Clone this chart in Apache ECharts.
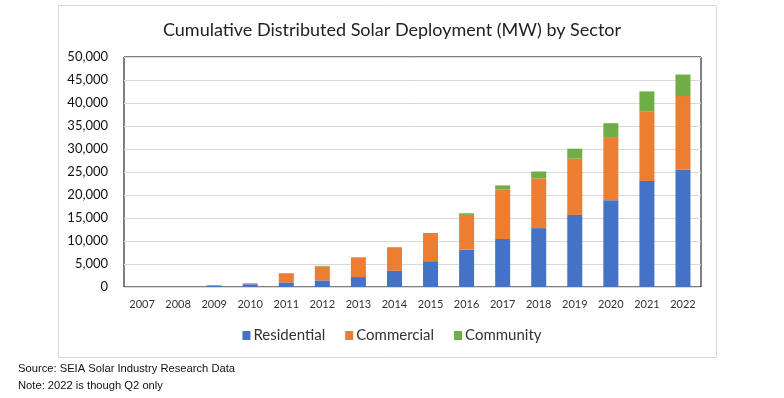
<!DOCTYPE html>
<html lang="en">
<head>
  <meta charset="UTF-8">
  <title>Cumulative Distributed Solar Deployment</title>
  <script src="https://cdn.jsdelivr.net/npm/echarts@6/dist/echarts.min.js"></script>
  <style>
    html, body { margin: 0; padding: 0; background: #fff; }
    #main { width: 784px; height: 398px; }
  </style>
</head>
<body>
<div id="main"></div>
<script>
  const years = ['2007', '2008', '2009', '2010', '2011', '2012', '2013', '2014',
    '2015', '2016', '2017', '2018', '2019', '2020', '2021', '2022'];
  const residential = [10, 20, 250, 600, 1000, 1440, 2160, 3520,
    5610, 8130, 10430, 12800, 15680, 18850, 23020, 25540];
  const commercial = [5, 10, 150, 180, 1880, 3020, 4170, 5040,
    5900, 7550, 10790, 10800, 12230, 13740, 15180, 15970];
  const community = [0, 0, 50, 60, 140, 140, 140, 140,
    220, 360, 865, 1510, 2160, 3020, 4320, 4680];

  const font = 'Lato, "Open Sans", sans-serif';
  const chart = echarts.init(document.getElementById('main'));

  function barSeries(name, data, color) {
    return {
      name: name,
      type: 'bar',
      stack: 'total',
      barWidth: 15,
      data: data,
      itemStyle: { color: color },
      emphasis: { disabled: true }
    };
  }

  chart.setOption({
    animation: false,
    title: {
      text: 'Cumulative Distributed Solar Deployment (MW) by Sector',
      left: 387,
      textAlign: 'center',
      top: 16,
      textStyle: { fontFamily: font, fontSize: 18, fontWeight: 'normal', color: '#222' }
    },
    legend: {
      data: ['Residential', 'Commercial', 'Community'],
      left: 'center',
      top: 323,
      icon: 'rect',
      itemWidth: 8,
      itemHeight: 9,
      itemGap: 20,
      textStyle: { fontFamily: font, fontSize: 15, color: '#333', padding: [0, 0, 0, -2] }
    },
    grid: {
      left: 124,
      right: 83,
      top: 57,
      bottom: 111,
      show: true,
      borderColor: '#000',
      borderWidth: 1
    },
    xAxis: {
      type: 'category',
      data: years,
      axisLine: { show: false },
      axisTick: { show: false },
      axisLabel: { fontFamily: font, fontSize: 11, color: '#333', margin: 12 }
    },
    yAxis: {
      type: 'value',
      min: 0,
      max: 50000,
      interval: 5000,
      axisLine: { show: false },
      axisTick: { show: false },
      axisLabel: {
        fontFamily: font, fontSize: 13, color: '#111', margin: 16,
        formatter: v => v.toLocaleString('en-US')
      },
      splitLine: { lineStyle: { color: '#d9d9d9', width: 1 } }
    },
    graphic: [
      {
        type: 'rect',
        shape: { x: 58.5, y: 5.5, width: 658, height: 352 },
        style: { fill: 'none', stroke: '#d9d9d9', lineWidth: 1 },
        z: -1
      },
      {
        type: 'text',
        left: 18,
        top: 363,
        style: { text: 'Source: SEIA Solar Industry Research Data', font: '11.2px "Liberation Sans", Arial, sans-serif', fill: '#111' }
      },
      {
        type: 'text',
        left: 18,
        top: 380,
        style: { text: 'Note: 2022 is though Q2 only', font: '11.2px "Liberation Sans", Arial, sans-serif', fill: '#111' }
      }
    ],
    series: [
      barSeries('Residential', residential, '#4472C4'),
      barSeries('Commercial', commercial, '#ED7D31'),
      barSeries('Community', community, '#70AD47')
    ]
  });
</script>
</body>
</html>
